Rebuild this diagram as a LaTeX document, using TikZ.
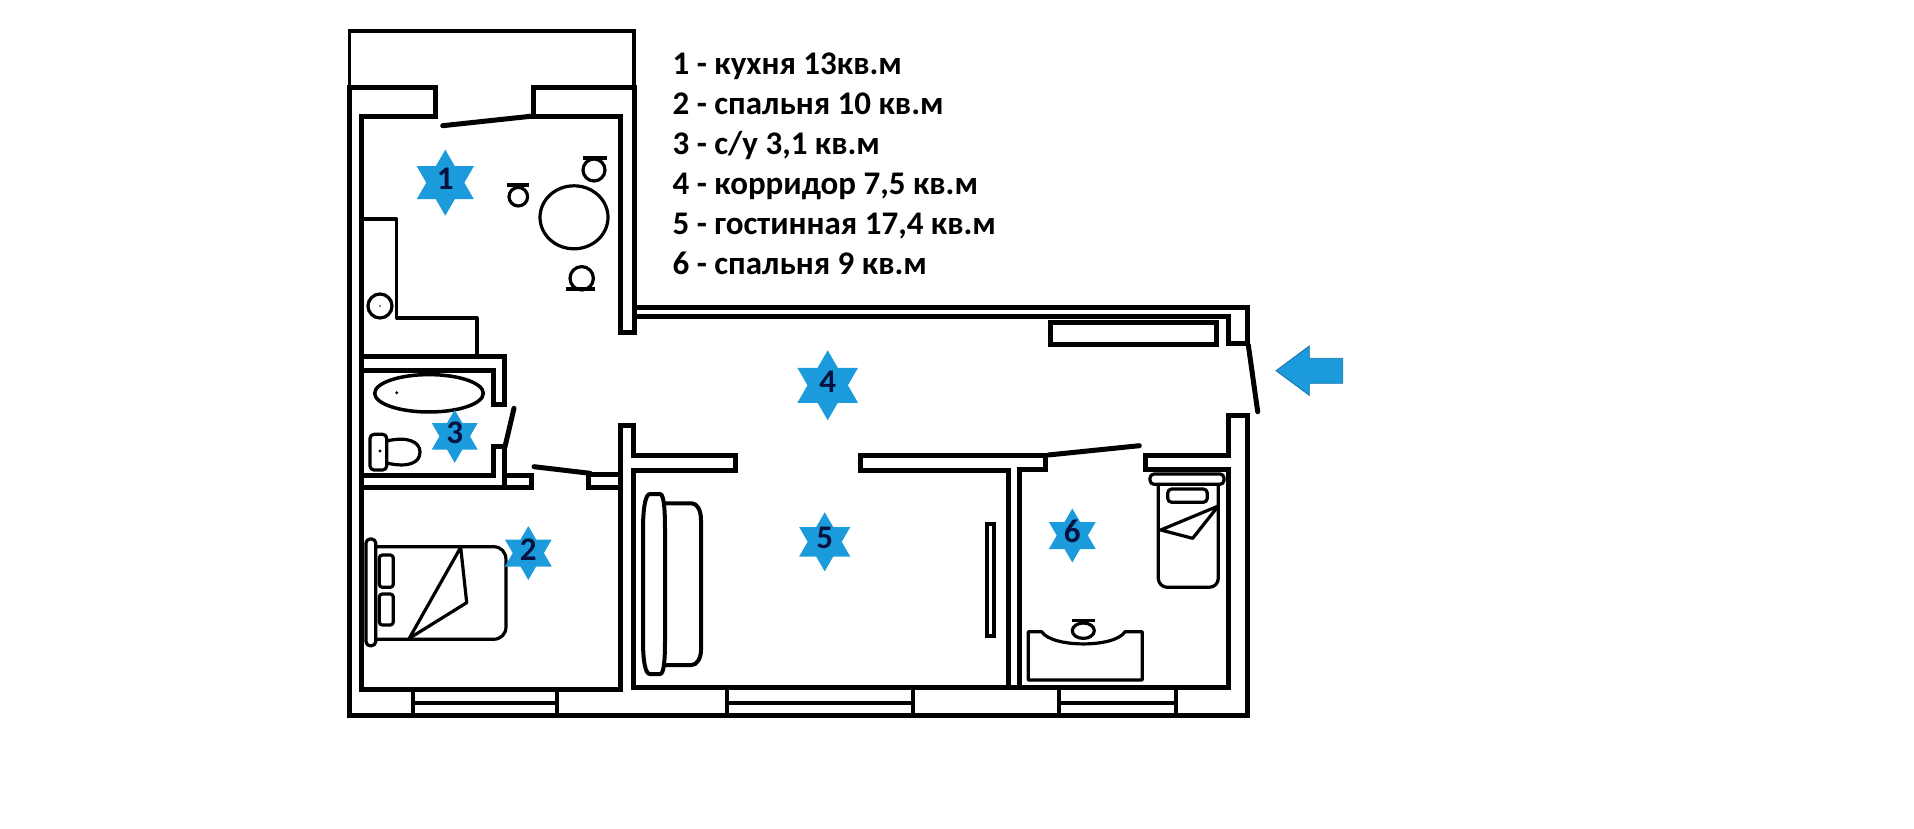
\documentclass[tikz,border=0pt]{standalone}
\usepackage{fontspec}
\setmainfont{Carlito}
\usetikzlibrary{shapes.geometric}
\definecolor{starblue}{HTML}{1B9BDC}
\definecolor{edgeblue}{HTML}{1A6FA5}
\definecolor{digitnavy}{HTML}{06123F}
\newcommand{\stardigit}[1]{\raisebox{-7pt}[0pt][0pt]{\makebox[0pt]{#1}}}
\tikzset{
  wall/.style={line width=5pt, line join=miter},
  door/.style={line width=5pt, line cap=round},
  furn/.style={line width=3.2pt, line join=round},
  roomstar/.style={star, star points=6, star point ratio=1.732, fill=starblue, inner sep=0pt,
    text=digitnavy, font=\fontsize{33}{33}\selectfont\bfseries},
  legend/.style={anchor=base west, inner sep=0pt, font=\fontsize{33}{38}\selectfont\bfseries}
}

\begin{document}
\begin{tikzpicture}[x=1pt, y=-1pt]
  \useasboundingbox (0,0) rectangle (1914,829);

  % balcony
  \draw[line width=3.5pt] (349.5,88) -- (349.5,31) -- (634,31) -- (634,88);

  % outer shell and the rooms along it
  \draw[wall] (533.3,116.7) -- (533.3,88) -- (634,88) -- (634,332) -- (620,332) -- (620,116.7) -- cycle;
  \draw[wall] (349.5,88) -- (435.3,88) -- (435.3,116.7) -- (361.7,116.7) -- (361.7,689) -- (620.3,689)
    -- (620.3,425.7) -- (633.7,425.7) -- (633.7,455.7) -- (735.7,455.7) -- (735.7,470) -- (633.7,470) -- (633.7,687)
    -- (1228.7,687) -- (1228.7,469.3) -- (1145.3,469.3) -- (1145.3,455.7) -- (1228.7,455.7) -- (1228.7,415)
    -- (1247,415) -- (1247,715) -- (349.5,715) -- cycle;
  \draw[wall] (636,307.7) -- (1247,307.7) -- (1247,343) -- (1228.7,343) -- (1228.7,316) -- (636,316);
  \draw[wall] (1008,687) -- (1008,470) -- (860.7,470) -- (860.7,455.7) -- (1045.7,455.7) -- (1045.7,469.3)
    -- (1019,469.3) -- (1019,687);

  % bathroom and the stub next to the bedroom door
  \draw[wall] (361.7,356.7) -- (504.3,356.7) -- (504.3,404) -- (493.3,404) -- (493.3,370) -- (361.7,370);
  \draw[wall] (361.7,475) -- (493.3,475) -- (493.3,446.7) -- (504.3,446.7) -- (504.3,475) -- (531.7,475)
    -- (531.7,487.7) -- (361.7,487.7);
  \draw[wall] (504.3,446.7) -- (504.3,487.7);
  \draw[wall] (620,474) -- (588.3,474) -- (588.3,487.7) -- (620,487.7);

  % doors
  \draw[door] (442.7,125.7) -- (533.3,116);
  \draw[door] (514,408.3) -- (505,446.7);
  \draw[door] (534,466.7) -- (590,473.3);
  \draw[door] (1048.3,455) -- (1139.3,445.7);
  \draw[door] (1248.3,345) -- (1257.7,411.7);

  % windows
  \foreach \xa/\xb in {413.3/557.3, 727.3/913.3, 1059.3/1175.7}{
    \draw[line width=4pt] (\xa,689) -- (\xa,715) (\xb,689) -- (\xb,715) (\xa,703) -- (\xb,703);
  }

  % corridor closet
  \draw[wall] (1050,322.3) rectangle (1216,344.3);

  % kitchen
  \draw[furn] (363,219) -- (396.7,219) -- (396.7,318) -- (477,318) -- (477,355);
  \draw[furn] (380,306) circle (12);
  \fill (380,306) circle (0.8);
  \draw[furn] (574,217.3) ellipse (34 and 31.5);
  \foreach \xa/\xb/\ybar/\cx/\cy/\r in {583.3/607.3/158.3/594/170/11, 507.3/529.3/185/518.3/196.7/9.3, 566/595.3/289.3/581.7/278.3/11.7}{
    \draw[line width=4pt] (\xa,\ybar) -- (\xb,\ybar);
    \draw[furn] (\cx,\cy) circle (\r);
  }

  % bath and toilet
  \draw[line width=3.5pt] (429,393.3) ellipse (54.3 and 18.7);
  \fill (396.7,392.7) circle (1.6);
  \draw[furn, rounded corners=4pt] (370,434.3) rectangle (386.7,470);
  \fill (380,451) circle (1.6);
  \draw[furn] (386.7,441) .. controls (408,436) and (420,442) .. (420,452) .. controls (420,463) and (408,468) .. (386.7,463);

  % bed in room 2
  \draw[furn, rounded corners=4pt] (366,539) rectangle (375.7,645.7);
  \draw[furn] (376.7,546.7) -- (493.3,546.7) .. controls (501,546.7) and (506,552) .. (506,560) -- (506,626.7)
    .. controls (506,634) and (501,639.3) .. (493.3,639.3) -- (376.7,639.3);
  \draw[furn, rounded corners=3pt] (379.3,555) rectangle (393.3,587.3);
  \draw[furn, rounded corners=3pt] (379.3,594) rectangle (393.3,625);
  \draw[furn] (409.3,638.3) -- (460.7,547.3) -- (466.7,602.7) -- cycle;

  % sofa and tv in room 5
  \draw[line width=4pt] (650,494) -- (660,494) .. controls (664,494) and (665,510) .. (665,530) -- (665,640)
    .. controls (665,660) and (664,674) .. (660,674) -- (650,674) .. controls (645,674) and (643,660) .. (643,640)
    -- (643,530) .. controls (643,510) and (645,494) .. (650,494) -- cycle;
  \draw[line width=4pt] (665,503.3) -- (691.7,503.3) .. controls (697,503.3) and (701,510) .. (701,520) -- (701,650)
    .. controls (701,658) and (697,665) .. (691.7,665) -- (665,665);
  \draw[line width=4pt] (987,524) rectangle (994,636);

  % bed and desk in room 6
  \draw[furn, rounded corners=4pt] (1150,474) rectangle (1224,484.3);
  \draw[furn, rounded corners=9pt] (1158.3,484.7) -- (1158.3,587.3) -- (1218.3,587.3) -- (1218.3,484.7);
  \draw[furn, rounded corners=4pt] (1167.7,489) rectangle (1207.3,502.3);
  \draw[furn] (1218.3,506) -- (1160.7,530) -- (1192.7,538.3) -- cycle;
  \draw[furn] (1028.3,631.7) -- (1028.3,680) -- (1142.3,680) -- (1142.3,631.7) -- (1125,631.7)
    .. controls (1115,648) and (1052,648) .. (1041.7,631.7) -- cycle;
  \draw[furn] (1072,620.7) -- (1095,620.7);
  \draw[furn] (1083.3,630.7) ellipse (11 and 7.7);

  % entrance arrow
  \draw[fill=starblue, draw=edgeblue, line width=0.8pt] (1276,370.7) -- (1309.3,346) -- (1309.3,358.3) -- (1342.7,358.3)
    -- (1342.7,383.3) -- (1309.3,383.3) -- (1309.3,395.3) -- cycle;

  % room numbers
  \node[roomstar, minimum size=66pt] (room1) at (445.3,182.7) {\stardigit{1}};
  \node[roomstar, minimum size=54pt] (room2) at (528.3,553) {\stardigit{2}};
  \node[roomstar, minimum size=53pt] (room3) at (454.7,436.3) {\stardigit{3}};
  \node[roomstar, minimum size=70pt] (room4) at (827.7,385.3) {\stardigit{4}};
  \node[roomstar, minimum size=59pt] (room5) at (824.7,541.8) {\stardigit{5}};
  \node[roomstar, minimum size=54pt] (room6) at (1072.3,535.5) {\stardigit{6}};

  % legend
  \foreach \ybase/\entry in {74.3/{1 - кухня 13кв.м}, 114.3/{2 - спальня 10 кв.м}, 154.3/{3 - с/у 3,1 кв.м},
      195/{4 - корридор 7,5 кв.м}, 235/{5 - гостинная 17,4 кв.м}, 274.3/{6 - спальня 9 кв.м}}{
    \node[legend] at (672.5,\ybase) {\entry};
  }
\end{tikzpicture}
\end{document}
